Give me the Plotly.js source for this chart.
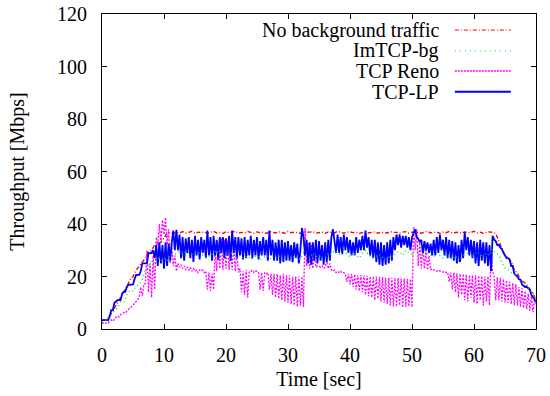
<!DOCTYPE html>
<html>
<head>
<meta charset="utf-8">
<script src="https://cdn.plot.ly/plotly-3.0.1.min.js"></script>
<style>html,body{margin:0;padding:0;background:#fff;}#chart{width:550px;height:396px;}</style>
</head>
<body>
<div id="chart"></div>
<script>
// Series names (legend labels)
const seriesNames = ["No background traffic", "ImTCP-bg", "TCP Reno", "TCP-LP"];
const xTicks = [0, 10, 20, 30, 40, 50, 60, 70];
const yTicks = [0, 20, 40, 60, 80, 100, 120];
const fineStep = 0.25;   // seconds between samples for TCP Reno and TCP-LP
const coarseStep = 0.5;  // seconds between samples for the other two

// No background traffic [Mbps], every 0.5 s from 0 to 70 s
const noBackground = [
  3.4,3.4, 4,6, 8,10, 12,14, 16,18.7, 20,22.4, 24,25.6, 27,29.5, 30,32, 32.7,33, 35,36.5, 36.8,36.5,
  36.9,36.5, 37.1,36.6, 36.8,37.2, 36.4,36.9, 36.7,37.0, 36.5,36.9, 37.2,36.6, 36.8,36.4, 37.0,36.7, 36.9,37.2, 36.5,36.8, 36.6,37.1, 36.8,36.5,
  37.0,36.7, 36.9,36.4, 37.1,36.8, 36.6,37.0, 36.8,36.5, 37.2,36.7, 36.9,36.6, 36.5,37.0, 36.8,36.9, 37.1,36.5, 36.7,36.9, 36.4,37.0, 36.8,36.6,
  37.2,36.8, 36.5,36.9, 37.0,36.7, 36.8,36.4, 36.9,37.1, 36.6,36.8, 37.0,36.5, 36.9,36.7, 36.6,37.1, 36.8,36.8, 36.5,36.9, 37.1,36.6, 36.8,37.0,
  36.7,36.5, 36.9,37.2, 36.6,36.8, 37.0,36.4, 36.9,36.7, 37.1,36.6, 36.8,36.9, 36.5,37.0, 36.7,36.8, 37.2,36.6, 36.9,36.5, 36.8,37.0, 36.8,36.5,
  33.5, 30.7, 28.2, 27, 25.7, 22.5, 21.2, 18.7, 18, 16.8, 15, 13.6, 11
];

// ImTCP-bg [Mbps], every 0.5 s from 0 to 70 s
const imtcpBg = [
  2.5,3, 4.6,5.5, 7.2,8, 10.3,10, 13,14.9, 14.5,16.3, 17,18.8, 22.5,24, 26,25, 27,26, 27,26, 28,29,
  28.5,30, 28,29.5, 29,28.5, 28,29, 28.5,27.5, 27,28, 29,30, 28,29, 27.5,28.5, 29,27, 28,27.5, 27,28,
  26.5,27.5, 28,26.5, 27,28, 27.5,26, 27,28, 26.5,27.5, 27,26, 28,27, 26.5,29, 28,27, 29,27.5, 28,26.5,
  27,29, 28.5,30, 29,28, 30,28.5, 27.5,29, 28,27, 29,30, 28,27.5, 27,28.5, 28,27, 26.5,28, 27.5,29,
  29.5,28, 30,29, 28.5,30, 29,28, 30,29, 28,27.5, 29,28, 27,28.5, 27.5,26.5, 28,26, 27,28.5, 29,27.5,
  28,29.5, 28.5,27, 29,28, 30.5,29, 28.3,25.3, 23.2,22.7, 21.5,21, 19.4,18, 16.8,16.5, 14.6,14.3, 10.5
];

// TCP Reno [Mbps], every 0.25 s from 0 to 70 s
const tcpReno = [
  2,2.3,2,2.5, 2.3,3,3.5,3, 4,4.5,5,4.6, 5.5,6,6.2,6, 7,7.5,8,8.4, 9,9.9,10.5,11,
  12.2,16,12.5,17, 17.3,30,14,25, 12,28,15,35, 32,40,33,41.5, 36,42.5,32,38, 25,32,24,28,
  22,25,23.5,24.5, 23,24,22.5,23.5, 22.5,23.5,22,23, 22,22.5,21.5,22.5, 22,22.5,21.5,22, 15,21.5,14.5,21,
  15,30,22,33, 23,34.5,22.5,34, 23,33.5,22.5,33, 22.5,32,22,30, 21.5,23,14,22, 13,22.5,12,22,
  22,22.5,21.5,22, 22,21.5,15,21.5, 14.5,21.5,21,21.5, 15,21,13,21, 12,21,11.5,20.5, 11,21,10.5,20.5,
  10,20.5,9.5,20, 9,20,8.5,20, 9,20,8.4,38.5, 24,33,23,32, 23,30,23.5,24, 24,23.5,24,23,
  23.5,26,23,25, 22.5,22,22.5,21.5, 22,21.5,22,21.3, 21.5,21,18,21, 17,21,16,20.8, 15,20.5,14.5,20.5,
  14,20.5,13,20.3, 12.5,20,12,20, 11,20,11.5,19.8, 10.5,19.8,10,19.5, 9.5,19.5,9,19.5, 8.6,19.4,8.5,19.4,
  9,19.2,8.2,19.2, 8.4,19,8.6,19, 8.3,39,30,38, 24,33,23,32, 23,30,22.5,28, 22.5,23,22.5,22.3,
  22,22.5,22,21.8, 21.7,22,21.5,21.6, 18,21.5,15,21.5, 14,21.2,12,21, 13,21,11,20.8, 10.5,20.5,12,20.5,
  10,20.5,9.5,20.3, 11,20.2,9,20, 10.5,20,9,30, 22,20,11,19.7, 11,19.5,10.5,19, 10,18.5,10,18,
  9.5,17.5,9,17, 9,16,8.5,15.5, 8,14.5,7.5,13.5, 7,12.5,6.5,11, 9
];

// TCP-LP [Mbps], every 0.25 s from 0 to 70 s
const tcpLp = [
  3.4,3.4,3.4,3.4, 3.4,5,7.2,7.2, 10,10.5,11,11, 11,13.5,14.2,14.2, 16,16.8,16.8,17, 17,19,20.6,20.6,
  20.6,22,25,25, 25,25,28.9,28.9, 28.9,30,27,32, 24,33,25,32, 23,33,24,32.5, 26,33,37.5,30,
  37.8,30,36,27, 35,26,34.5,29, 35,27,34,25.5, 35.5,28,34,26.5, 35,29,34,27, 37.5,28,35,26,
  35.5,28,34,26.5, 35,29,35,27, 34.5,28,35.5,26, 37.5,29,35,27, 35,28,34.5,26.5, 35,27,34,28,
  35.5,27,34,28, 35,26.5,33.5,28, 35,28,34,26, 37.5,28,34,26, 33,26,34,25, 34,25.5,33,26,
  33.5,26,32,25.5, 33,27,32.5,25, 30,38.5,35,28, 34,25,33,24.5, 33,26,34,25, 33.5,26,32,24.5,
  33,25.5,34,26, 35,38,34,29, 36,29,35,28.5, 36,30,35,29, 34,28,33,28, 35,29,34,30,
  35.5,30,37.5,31, 35,28,34,27, 34,25.5,33,24.5, 33,24,32,24.5, 33,25,34,26, 35,30,36,32,
  36,31,35.5,32, 35.5,31,35,30, 35,37,38,35, 34.5,33,34,29, 33.5,30,33,29, 32.5,28,34,28,
  35,29,36,30, 34,28,35,27, 34,27,33.5,26, 33,25,32,25.5, 34,27,37,30, 35,28,34,27,
  33.5,25,33,24, 34,26,33,25, 33,24,32,22, 35.5,34,33.5,32, 32,31,30.5,29, 28,27,27,26.5,
  24,24,21,20.5, 20,19,18.8,17, 16.5,16,16,15.5, 15,13,12,11.5, 10.5
];

const tRed = noBackground.map((_, i) => i * coarseStep);
const tGreen = imtcpBg.map((_, i) => i * coarseStep);
const tBlue = tcpLp.map((_, i) => i * fineStep);
const tReno = tcpReno.map((_, i) => i * fineStep);

const font = "Liberation Serif, Tinos, Times New Roman, serif";

const traces = [
  {x: tRed, y: noBackground, name: seriesNames[0], mode: "lines",
   line: {color: "#ff0000", width: 1.4, dash: "4px,2px,1px,2px"}},
  {x: tReno, y: tcpReno, name: seriesNames[2], mode: "lines",
   line: {color: "#ff00ff", width: 1.3, dash: "2px,1.5px"}},
  {x: tBlue, y: tcpLp, name: seriesNames[3], mode: "lines",
   line: {color: "#0000ff", width: 1.8}},
  {x: tGreen, y: imtcpBg, name: seriesNames[1], mode: "lines",
   line: {color: "#00e000", width: 1.3, dash: "1px,3px"}}
];

// gnuplot-style key: right-aligned labels with sample lines to their right
const legendRowsY = [0.949, 0.883, 0.819, 0.753];
const legendStyles = [
  {color: "#ff0000", width: 1, dash: "4px,2px,1px,2px"},
  {color: "#00e000", width: 1, dash: "1px,4px"},
  {color: "#ff00ff", width: 1.5, dash: "2px,1px"},
  {color: "#0000ff", width: 2, dash: "solid"}
];
const annotations = seriesNames.map((n, i) => ({
  text: n, xref: "paper", yref: "paper", x: 0.781, y: legendRowsY[i],
  xanchor: "right", yanchor: "middle", showarrow: false,
  font: {family: font, size: 20, color: "#000"}
}));
const shapes = seriesNames.map((n, i) => ({
  type: "line", xref: "paper", yref: "paper",
  x0: 0.813, x1: 0.942, y0: legendRowsY[i], y1: legendRowsY[i],
  line: legendStyles[i]
}));

const axisCommon = {
  showgrid: false, zeroline: false, showline: true, linecolor: "#000", linewidth: 1,
  mirror: "ticks", ticks: "inside", ticklen: 5, tickcolor: "#000", tickwidth: 1,
  tickfont: {family: font, size: 20, color: "#000"}
};

const layout = {
  width: 550, height: 396,
  margin: {l: 102, r: 14, t: 14, b: 67},
  paper_bgcolor: "#fff", plot_bgcolor: "#fff",
  showlegend: false,
  font: {family: font, size: 20, color: "#000"},
  xaxis: Object.assign({}, axisCommon, {
    range: [0, 70], tickvals: xTicks, ticktext: xTicks.map(String),
    ticklabelstandoff: 8,
    title: {text: "Time [sec]", font: {family: font, size: 20, color: "#000"}, standoff: 6}
  }),
  yaxis: Object.assign({}, axisCommon, {
    range: [0, 120], tickvals: yTicks, ticktext: yTicks.map(String),
    ticklabelstandoff: 10,
    title: {text: "Throughput [Mbps]", font: {family: font, size: 20, color: "#000"}, standoff: 27}
  }),
  annotations: annotations,
  shapes: shapes
};

Plotly.newPlot("chart", traces, layout, {staticPlot: true, displayModeBar: false});
</script>
</body>
</html>
